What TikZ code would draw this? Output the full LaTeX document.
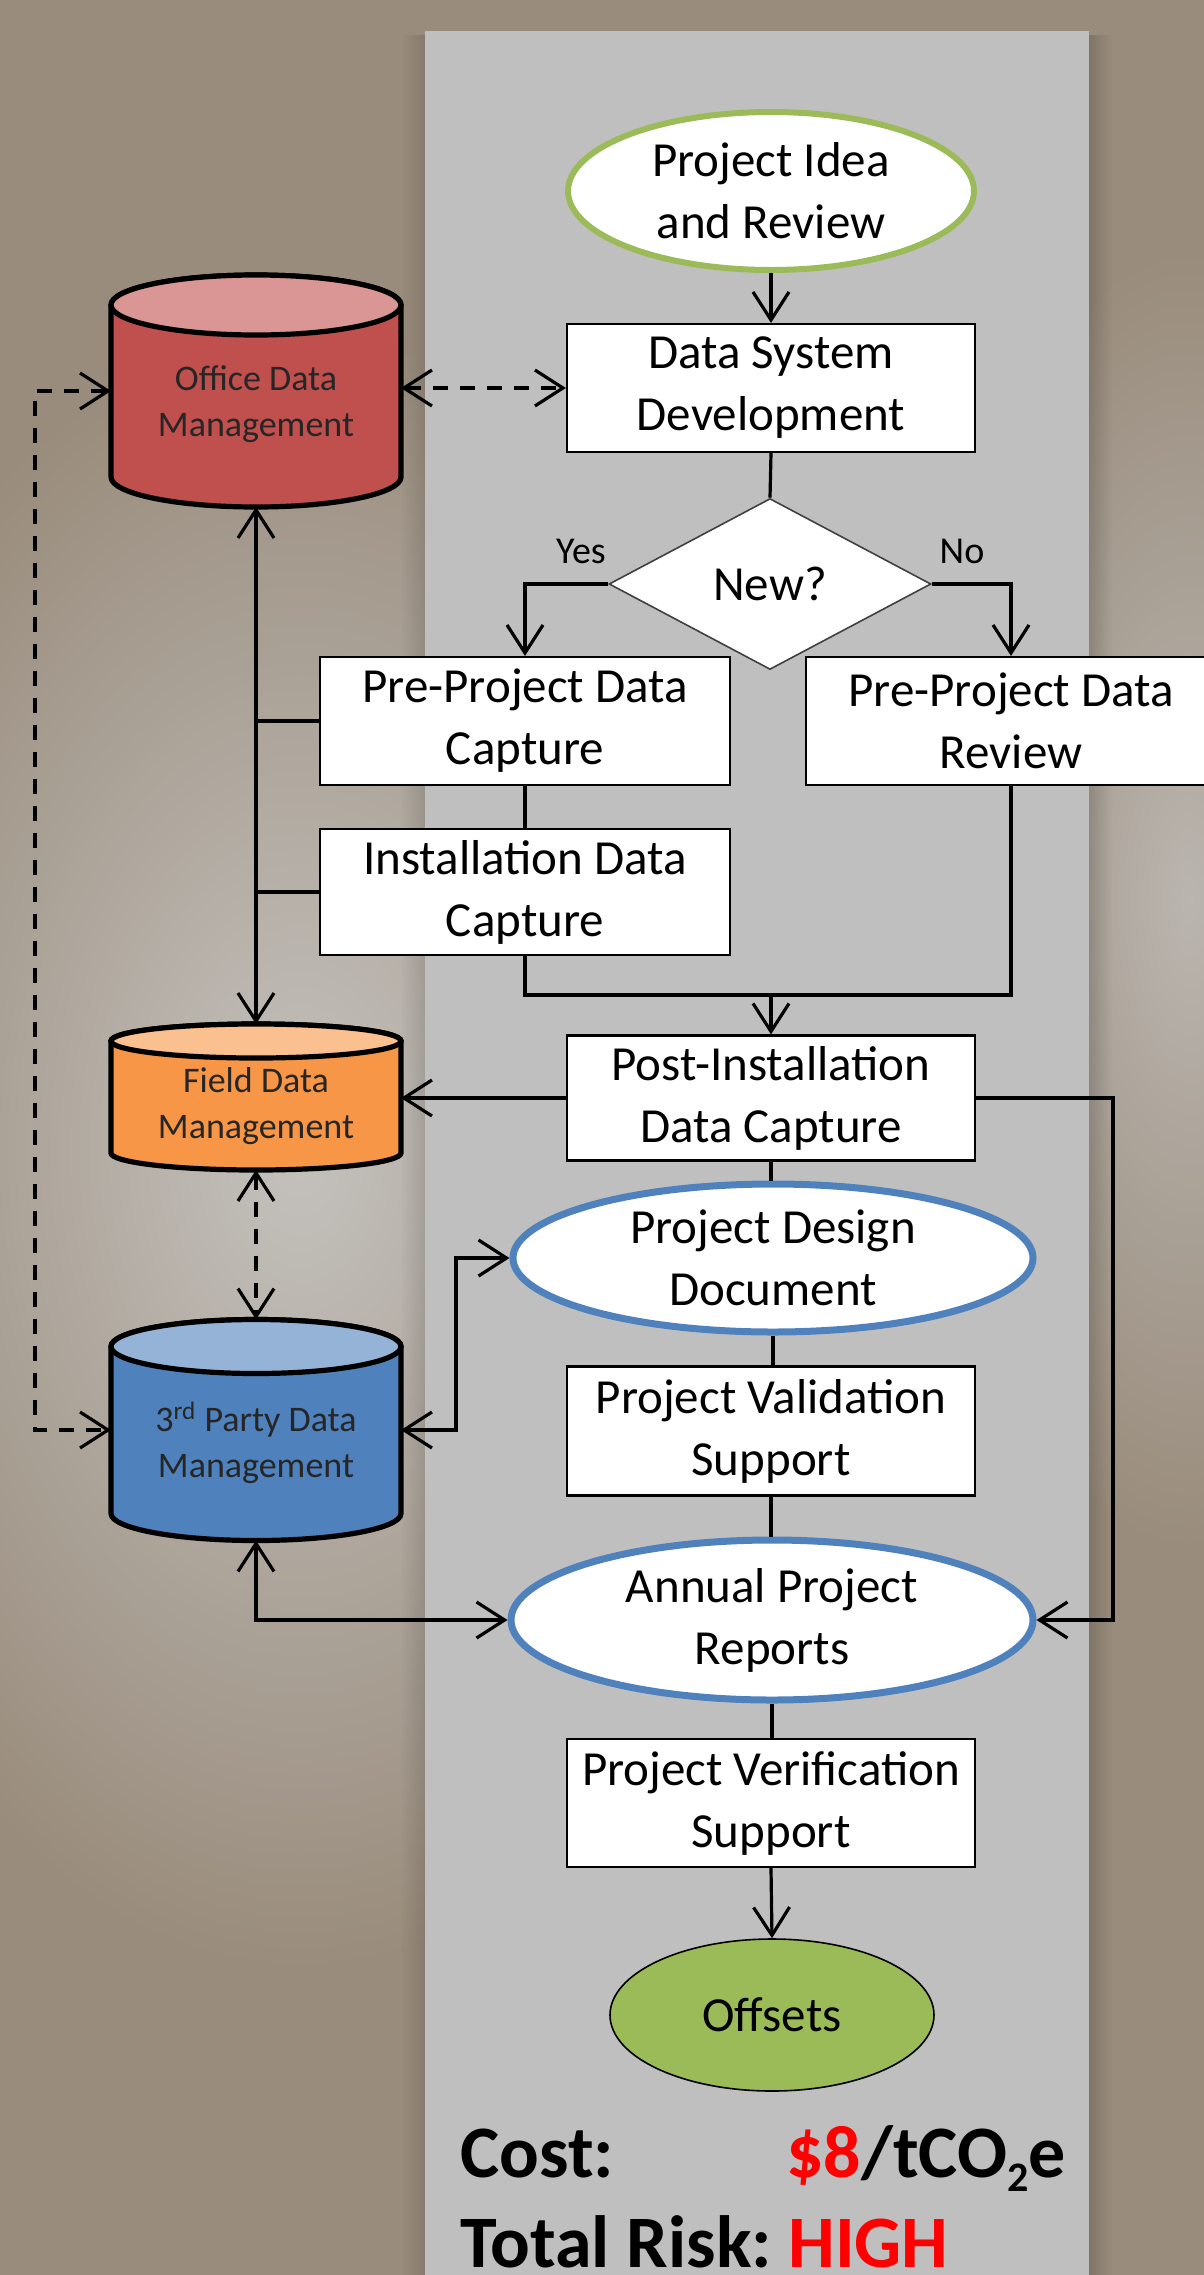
\documentclass[tikz,border=0pt]{standalone}
\usepackage{fontspec}
\setmainfont{Carlito}
\usetikzlibrary{arrows.meta,shapes.geometric,calc,fadings}
\definecolor{bgc}{RGB}{153,140,124}
\definecolor{glowc}{RGB}{196,193,189}
\definecolor{glowr}{RGB}{186,181,175}
\definecolor{panelc}{RGB}{191,191,191}
\definecolor{greenb}{RGB}{155,187,89}
\definecolor{blueb}{RGB}{79,129,189}
\definecolor{redbody}{RGB}{192,80,77}
\definecolor{redtop}{RGB}{217,150,148}
\definecolor{orbody}{RGB}{247,150,70}
\definecolor{ortop}{RGB}{250,192,144}
\definecolor{blbody}{RGB}{79,129,189}
\definecolor{bltop}{RGB}{149,179,215}
\definecolor{hired}{RGB}{255,0,0}
\newcommand\boxfont{\fontsize{24.5pt}{31pt}\selectfont}
\newcommand\cylfont{\fontsize{18pt}{23pt}\selectfont}
\newcommand\bigfont{\fontsize{37pt}{44pt}\selectfont\bfseries}
\newcommand\drawcyl[4]{%
  \path[draw=black, line width=2.6pt, fill=#3]
    ($(#1.north west)+(0,#2)$) -- ($(#1.south west)+(0,-#2)$)
    arc[start angle=180, end angle=0, x radius=145, y radius=#2]
    -- ($(#1.north east)+(0,#2)$)
    arc[start angle=0, end angle=-180, x radius=145, y radius=#2] -- cycle;
  \path[draw=black, line width=2.6pt, fill=#4] ($(#1.north)+(0,#2)$) ellipse[x radius=145, y radius=#2];}
\begin{document}
\begin{tikzpicture}[x=0.5pt,y=-0.5pt,
  >={Straight Barb[length=14pt,width=18pt]},
  conn/.style={line width=1.6pt, draw=black},
  dsh/.style={conn, dash pattern=on 7.5pt off 6pt},
  box/.style={rectangle, draw=black, line width=1.1pt, fill=white, minimum width=204pt, minimum height=64pt, inner sep=0pt, align=center, font=\boxfont},
  oval/.style={ellipse, fill=white, inner sep=0pt, align=center, font=\boxfont},
  cylnode/.style={rectangle, draw=none, inner sep=0pt, outer sep=0pt, minimum width=145pt},
  cyltext/.style={align=center, font=\cylfont, text=black!85},
  lbl/.style={font=\fontsize{19pt}{22pt}\selectfont, inner sep=0pt}
]
\useasboundingbox (0,0) rectangle (1204,2275);
\clip (0,0) rectangle (1204,2275);
% background
\fill[bgc] (0,0) rectangle (1204,2275);
\shade[inner color=glowc, outer color=bgc] (300,1150) ellipse[x radius=520, y radius=820];
\shade[inner color=glowr, outer color=bgc] (1190,900) ellipse[x radius=260, y radius=650];
\fill[black, opacity=0.12, path fading=west] (400,31) rectangle (425,2275);
\fill[panelc] (425,31) rectangle (1089,2275);
\fill[black, opacity=0.16, path fading=east] (1089,31) rectangle (1112,2275);

% cylinders
\node[cylnode, minimum height=116pt] (office) at (256,391) {};
\drawcyl{office}{30}{redbody}{redtop}
\node[cyltext] (officelabel) at (256,404) {Office Data\\Management};
\node[cylnode, minimum height=73pt] (field) at (256,1097) {};
\drawcyl{field}{17}{orbody}{ortop}
\node[cyltext] (fieldlabel) at (256,1106) {Field Data\\Management};
\node[cylnode, minimum height=110.5pt] (third) at (256,1430) {};
\drawcyl{third}{27}{blbody}{bltop}
\node[cyltext] (thirdlabel) at (256,1443) {3\textsuperscript{rd} Party Data\\Management};

% main flow
\node[oval, draw=greenb, line width=3pt, minimum width=203pt, minimum height=79pt] (idea) at (771,191) {Project Idea\\and Review};
\node[box] (dsd) at (771,388) {Data System\\Development};
\node[diamond, draw=black!75, line width=0.8pt, fill=white, aspect=1.88, minimum width=161pt, minimum height=85.5pt, inner sep=0pt, font=\boxfont] (new) at (770,584) {New?};
\node[box, minimum width=205pt] (ppc) at (525,721) {Pre-Project Data\\Capture};
\node[box, minimum width=205pt] (ppr) at (1011,721) {Pre-Project Data\\Review};
\node[box, minimum width=205pt, minimum height=63pt] (idc) at (525,892) {Installation Data\\Capture};
\node[box, minimum height=62.5pt] (pidc) at (771,1098) {Post-Installation\\Data Capture};
\node[oval, draw=blueb, line width=3.5pt, minimum width=260pt, minimum height=74pt] (pdd) at (773,1258) {Project Design\\Document};
\node[box, minimum height=64.5pt] (pvs) at (771,1431) {Project Validation\\Support};
\node[oval, draw=blueb, line width=3.5pt, minimum width=261pt, minimum height=80pt] (apr) at (772,1620) {Annual Project\\Reports};
\node[box] (pver) at (771,1803) {Project Verification\\Support};
\node[ellipse, draw=black, line width=0.8pt, fill=greenb, minimum width=162pt, minimum height=76pt, inner sep=0pt, font=\boxfont] (off) at (772,2015) {Offsets};

\node[lbl] (yes) at (581,551) {Yes};
\node[lbl] (no) at (962,551) {No};

% coordinates
\coordinate (join) at (771,995);
\coordinate (rt) at (1113,1360);
\coordinate (lx) at (35,900);
\coordinate (mx) at (456,1340);

% connectors main
\draw[conn,->] (idea.south) -- (dsd.north);
\draw[conn] (dsd.south) -- (new.north);
\draw[conn,->] (new.west) -| (ppc.north);
\draw[conn,->] (new.east) -| (ppr.north);
\draw[conn] (ppc.south) -- (idc.north);
\draw[conn] (idc.south) |- (ppr.south |- join) -- (ppr.south);
\draw[conn,->] (join) -- (pidc.north);
\draw[conn,->] (pidc.west) -- (pidc.west -| field.east);
\draw[conn,->] (pidc.east) -| (rt) |- (apr.east);
\draw[conn] (pidc.south) -- (pidc.south |- pdd.north);
\draw[conn] (pdd.south) -- (pdd.south |- pvs.north);
\draw[conn] (pvs.south) -- (pvs.south |- apr.north);
\draw[conn] (apr.south) -- (apr.south |- pver.north);
\draw[conn,->] (pver.south) -- (off.north);

% left side
\draw[dsh,<->] (office.east |- dsd.west) -- (dsd.west);
\draw[dsh,<->] (office.west) -| (lx) |- (third.west);
\draw[conn,<->] (office.south) -- (field.north);
\draw[conn] (ppc.west) -- (ppc.west -| office.south);
\draw[conn] (idc.west) -- (idc.west -| office.south);
\draw[dsh,<->] (field.south) -- (third.north);
\draw[conn,<->] (third.east) -| (mx) |- (pdd.west);
\draw[conn,<->] (third.south) |- (apr.west);

% cost
\node[anchor=base west, font=\bigfont, inner sep=0pt] (costlbl) at (460,2177) {Cost:};
\node[anchor=base west, font=\bigfont, inner sep=0pt] (costval) at (786,2177) {\textcolor{hired}{\$8}/tCO\raisebox{-7pt}{\fontsize{21pt}{21pt}\selectfont 2}e};
\node[anchor=base west, font=\bigfont, inner sep=0pt] (risklbl) at (460,2267) {Total Risk:};
\node[anchor=base west, font=\bigfont, inner sep=0pt, text=hired] (riskval) at (788,2267) {HIGH};
\end{tikzpicture}
\end{document}
